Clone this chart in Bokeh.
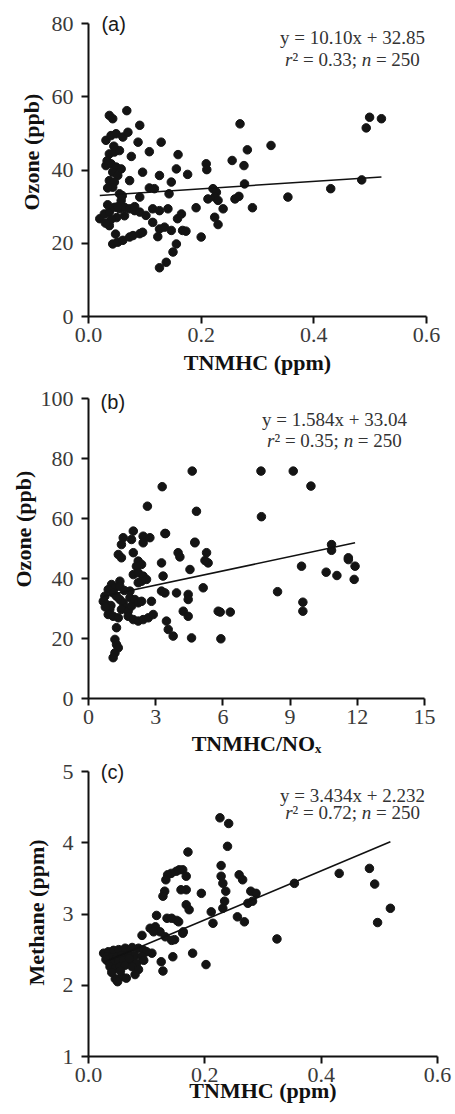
from bokeh.plotting import figure
from bokeh.models import Range1d, FixedTicker, PrintfTickFormatter, Label, Title
from bokeh.layouts import column
from bokeh.embed import file_html
from bokeh.resources import INLINE

# ---------------- data ----------------
# (a) Ozone vs TNMHC
tnmhc_a = [0.037, 0.043, 0.068, 0.091, 0.031, 0.040, 0.049, 0.061, 0.070, 0.088, 0.129,
           0.037, 0.046, 0.055, 0.076, 0.108, 0.159, 0.031, 0.040, 0.049, 0.058, 0.043, 0.052,
           0.037, 0.046, 0.043, 0.034, 0.073, 0.096, 0.126, 0.147, 0.156, 0.176, 0.209, 0.210,
           0.108, 0.117, 0.143, 0.091, 0.055, 0.058, 0.020, 0.028, 0.037, 0.046, 0.055, 0.064,
           0.073, 0.082, 0.091, 0.102, 0.037, 0.114, 0.126, 0.141, 0.114, 0.126, 0.123, 0.135,
           0.158, 0.165, 0.147, 0.167, 0.173, 0.156, 0.150, 0.138, 0.126, 0.191, 0.200, 0.043,
           0.052, 0.061, 0.073, 0.079, 0.091, 0.096, 0.269, 0.499, 0.520, 0.493, 0.324, 0.282,
           0.255, 0.276, 0.277, 0.485, 0.430, 0.354, 0.260, 0.267, 0.291, 0.221, 0.227, 0.224,
           0.230, 0.239, 0.224, 0.230, 0.212, 0.034, 0.050, 0.040, 0.064, 0.082, 0.033, 0.045,
           0.060, 0.052, 0.048, 0.030]
ozone_a = [54.9, 54.0, 56.2, 52.2, 48.1, 49.4, 49.9, 49.0, 50.3, 47.6, 47.6,
           44.4, 44.9, 45.3, 43.7, 45.0, 44.2, 41.2, 41.7, 40.8, 40.3, 39.4, 38.5,
           37.1, 36.7, 35.3, 35.1, 37.1, 39.4, 38.5, 36.7, 40.3, 38.8, 41.7, 40.1,
           35.1, 34.9, 33.5, 32.6, 33.5, 31.7, 26.7, 28.0, 28.5, 29.8, 29.4, 29.8,
           29.4, 28.9, 28.5, 27.6, 24.8, 29.4, 28.9, 29.4, 25.7, 23.9, 21.8, 24.4,
           26.7, 28.0, 23.5, 23.5, 23.3, 19.8, 17.6, 14.8, 13.3, 29.7, 21.7, 19.8,
           20.3, 20.8, 21.7, 22.1, 22.6, 23.0, 52.6, 54.4, 54.0, 51.5, 46.7, 45.5,
           42.6, 41.2, 36.2, 37.3, 34.9, 32.6, 32.1, 32.8, 29.7, 34.9, 33.9, 32.6,
           31.7, 29.4, 27.1, 25.1, 32.1, 30.5, 27.0, 26.5, 27.5, 30.0, 42.5, 46.5,
           33.0, 30.0, 22.5, 25.5]

# (b) Ozone vs TNMHC/NOx
ratio_b = [2.00, 2.44, 2.74, 3.41, 1.55, 1.47, 1.92, 2.44, 4.75, 1.33, 1.47, 2.00,
           4.00, 4.08, 5.27, 5.34, 5.20, 2.22, 2.37, 2.14, 3.26, 4.53, 2.00, 2.22,
           2.44, 2.59, 2.37, 2.22, 3.33, 1.40, 1.03, 1.18, 1.40, 0.88, 1.10, 1.85,
           3.26, 3.41, 3.93, 4.45, 4.45, 5.12, 5.79, 0.73, 0.66, 0.80, 0.95, 0.88,
           1.10, 1.33, 1.25, 1.40, 1.55, 1.62, 1.47, 1.77, 1.92, 1.85, 2.07, 2.22,
           2.37, 2.81, 1.77, 2.00, 2.22, 2.44, 2.67, 2.89, 1.25, 3.48, 3.56, 3.78,
           4.60, 4.23, 4.45, 1.18, 1.25, 1.33, 1.18, 1.10, 5.91, 6.33, 4.63, 7.70,
           9.14, 9.93, 3.29, 2.63, 4.82, 7.72, 3.44, 4.75, 10.85, 10.85, 11.60, 11.90,
           9.51, 10.61, 11.09, 11.86, 11.60, 8.44, 9.57, 9.57, 5.88, 1.00, 1.60, 0.75]
ozone_b = [55.8, 54.1, 53.6, 55.0, 53.6, 51.3, 53.0, 51.9, 51.9, 48.0, 46.9, 48.6,
           48.6, 47.2, 48.6, 45.2, 46.0, 45.8, 44.7, 44.1, 45.2, 43.0, 41.3, 41.9,
           40.8, 39.7, 39.1, 38.6, 40.8, 39.1, 38.0, 36.9, 37.4, 36.3, 35.2, 35.8,
           35.8, 35.2, 35.2, 34.7, 33.0, 36.9, 29.1, 34.1, 32.4, 31.3, 29.7, 28.0,
           27.4, 26.9, 34.1, 33.0, 31.9, 30.2, 29.7, 29.1, 30.8, 33.6, 33.0, 31.9,
           32.4, 32.4, 27.4, 26.3, 25.8, 26.3, 26.9, 28.0, 23.6, 25.8, 23.0, 20.8,
           20.2, 29.1, 27.4, 19.7, 18.0, 16.9, 15.2, 13.6, 19.9, 28.8, 75.8, 75.8,
           75.8, 70.8, 70.6, 64.1, 62.4, 60.6, 55.0, 52.1, 51.3, 49.4, 46.9, 44.1,
           44.1, 42.1, 41.0, 39.7, 46.3, 35.6, 32.1, 29.1, 28.8, 31.0, 36.0, 30.5]

# (c) Methane vs TNMHC
tnmhc_c = [0.226, 0.241, 0.239, 0.171, 0.228, 0.162, 0.156, 0.151, 0.142, 0.136, 0.133,
           0.259, 0.265, 0.228, 0.231, 0.236, 0.234, 0.231, 0.279, 0.288, 0.274, 0.282,
           0.256, 0.268, 0.168, 0.173, 0.211, 0.214, 0.354, 0.431, 0.483, 0.492, 0.519,
           0.497, 0.324, 0.162, 0.179, 0.202, 0.148, 0.145, 0.125, 0.128, 0.168, 0.168,
           0.194, 0.159, 0.131, 0.128, 0.117, 0.135, 0.143, 0.152, 0.155, 0.106, 0.115,
           0.123, 0.112, 0.132, 0.143, 0.163, 0.092, 0.109,
           0.026, 0.034, 0.043, 0.052, 0.063, 0.075, 0.086, 0.095, 0.100,
           0.031, 0.040, 0.049, 0.057, 0.069, 0.080, 0.092,
           0.034, 0.043, 0.052, 0.060, 0.072, 0.083, 0.095,
           0.037, 0.046, 0.054, 0.063, 0.075, 0.086,
           0.046, 0.057, 0.080, 0.040, 0.050, 0.065, 0.030, 0.055, 0.070]
methane_c = [4.35, 4.27, 3.95, 3.87, 3.68, 3.62, 3.62, 3.60, 3.57, 3.55, 3.48,
             3.55, 3.48, 3.53, 3.43, 3.32, 3.18, 3.08, 3.32, 3.29, 3.15, 3.18,
             2.96, 2.89, 3.13, 3.06, 3.03, 2.87, 3.43, 3.57, 3.64, 3.42, 3.08,
             2.88, 2.65, 2.73, 2.45, 2.29, 2.64, 2.40, 2.33, 2.20, 3.53, 3.34,
             3.29, 3.34, 3.32, 3.25, 2.98, 2.94, 2.94, 2.91, 2.89, 2.80, 2.82,
             2.75, 2.75, 2.68, 2.63, 2.75, 2.70, 2.45,
             2.45, 2.47, 2.49, 2.50, 2.52, 2.53, 2.52, 2.49, 2.47,
             2.40, 2.39, 2.40, 2.42, 2.43, 2.42, 2.40,
             2.33, 2.31, 2.33, 2.35, 2.33, 2.31, 2.35,
             2.26, 2.24, 2.26, 2.28, 2.26, 2.22,
             2.09, 2.12, 2.15, 2.18, 2.05, 2.10, 2.36, 2.20, 2.38]

# regression results printed on the panels
fit_a = (10.10, 32.85)
fit_b = (1.584, 33.04)
fit_c = (3.434, 2.232)
eq_a = "y = 10.10x + 32.85"
eq_b = "y = 1.584x + 33.04"
eq_c = "y = 3.434x + 2.232"
r2_a, r2_b, r2_c = "0.33", "0.35", "0.72"
n_obs = "250"

xticks_a = [0.0, 0.2, 0.4, 0.6]
yticks_a = [0, 20, 40, 60, 80]
xticks_b = [0, 3, 6, 9, 12, 15]
yticks_b = [0, 20, 40, 60, 80, 100]
xticks_c = [0.0, 0.2, 0.4, 0.6]
yticks_c = [1, 2, 3, 4, 5]

# ---------------- styling helpers ----------------
SERIF = "Liberation Serif"
SANS = "Liberation Sans"
DOT = "#141414"


def make_panel(xr, yr, xt, yt, xfmt, xlabel, ylabel, fw, axis_h, extra, bl, bt, bb, br,
               ylab_standoff, ylab_shift, xlab_standoff):
    y0, y1 = yr
    ytop = y1 + extra * (y1 - y0) / axis_h  # room above the axis end for the panel texts
    p = figure(x_range=Range1d(*xr), y_range=Range1d(y0, ytop),
               frame_width=fw, frame_height=axis_h + extra,
               min_border_left=bl, min_border_top=bt, min_border_bottom=bb, min_border_right=br,
               output_backend="svg", toolbar_location=None,
               background_fill_color="white", border_fill_color="white")
    p.xgrid.visible = False
    p.ygrid.visible = False
    p.outline_line_color = None
    p.xaxis.ticker = FixedTicker(ticks=xt)
    p.yaxis.ticker = FixedTicker(ticks=yt)
    p.yaxis.bounds = (y0, y1)
    if xfmt:
        p.xaxis.formatter = PrintfTickFormatter(format=xfmt)
    p.xaxis.axis_label = xlabel
    for ax in (p.xaxis[0], p.yaxis[0]):
        ax.axis_line_color = "#111111"
        ax.axis_line_width = 2
        ax.major_tick_line_color = "#111111"
        ax.major_tick_line_width = 2
        ax.major_tick_out = 7
        ax.major_tick_in = 0
        ax.minor_tick_line_color = None
        ax.major_label_text_font = SERIF
        ax.major_label_text_font_size = "22px"
        ax.major_label_text_color = "#3a3a3a"
        ax.axis_label_text_font = SERIF
        ax.axis_label_text_font_style = "bold"
        ax.axis_label_text_font_size = "22px"
        ax.axis_label_text_color = "#111111"
    p.xaxis[0].major_label_standoff = 4
    p.xaxis[0].axis_label_standoff = xlab_standoff
    p.yaxis[0].major_label_standoff = 8
    # vertical axis title as a side title, shifted up from the frame bottom
    p.add_layout(Title(text=ylabel, align="left", offset=ylab_shift, standoff=ylab_standoff,
                       text_font=SERIF, text_font_style="bold", text_font_size="22px",
                       text_color="#111111"), "left")
    return p


def add_points_and_fit(p, xs, ys, fit):
    p.scatter(xs, ys, size=8.5, fill_color=DOT, line_color=DOT)
    x0, x1 = min(xs), max(xs)
    m, b = fit
    p.line([x0, x1], [m * x0 + b, m * x1 + b], line_color="#111111", line_width=1.6)


def add_texts(p, tag, tag_x, tag_y, eq, r2, cx, y1, y2):
    p.add_layout(Label(x=tag_x, y=tag_y, text=tag, text_font=SANS, text_font_size="20px",
                       text_color="#1a1a1a", text_align="left", text_baseline="middle"))
    p.add_layout(Label(x=cx, y=y1, text=eq, text_font=SERIF, text_font_size="19px",
                       text_color="#333333", text_align="center", text_baseline="middle"))
    pieces = [("r", "italic", -67.4), ("\u00b2 = %s;" % r2, "normal", -60.0),
              ("n", "italic", 9.2), ("= %s" % n_obs, "normal", 23.4)]
    for txt, style, off in pieces:
        p.add_layout(Label(x=cx, y=y2, x_offset=off, text=txt, text_font=SERIF,
                           text_font_size="19px", text_font_style=style,
                           text_color="#333333", text_align="left", text_baseline="middle"))


# panel (a): axis 0..80 spans 293 px
pa = make_panel((0, 0.6), (0, 80), xticks_a, yticks_a, "%.1f", "TNMHC (ppm)", "Ozone (ppb)",
                338, 293, 15, 87, 8, 54, 20, 9, 106, 5)
add_points_and_fit(pa, tnmhc_a, ozone_a, fit_a)
add_texts(pa, "(a)", 0.023, 80, eq_a, r2_a, 0.4686, 80 - 14 * 80 / 293, 80 - 36 * 80 / 293)

# panel (b): axis 0..100 spans 300 px
pb = make_panel((0, 15), (0, 100), xticks_b, yticks_b, None, "TNMHC/NO\u2093", "Ozone (ppb)",
                336, 300, 20, 88, 1, 54, 20, 3, 111, 4)
add_points_and_fit(pb, ratio_b, ozone_b, fit_b)
add_texts(pb, "(b)", 0.54, 98.7, eq_b, r2_b, 10.98, 100 - 21 * 100 / 300, 100 - 42 * 100 / 300)

# panel (c): axis 1..5 spans 285 px
pc = make_panel((0, 0.6), (1, 5), xticks_c, yticks_c, "%.1f", "TNMHC (ppm)", "Methane (ppm)",
                349, 285, 10, 88, 3, 50, 16, 21, 71, -7)
add_points_and_fit(pc, tnmhc_c, methane_c, fit_c)
add_texts(pc, "(c)", 0.021, 5, eq_c, r2_c, 0.454, 5 - 24 * 4 / 285, 5 - 41 * 4 / 285)

layout = column(pa, pb, pc)
open("out.html", "w").write(file_html(layout, INLINE))
